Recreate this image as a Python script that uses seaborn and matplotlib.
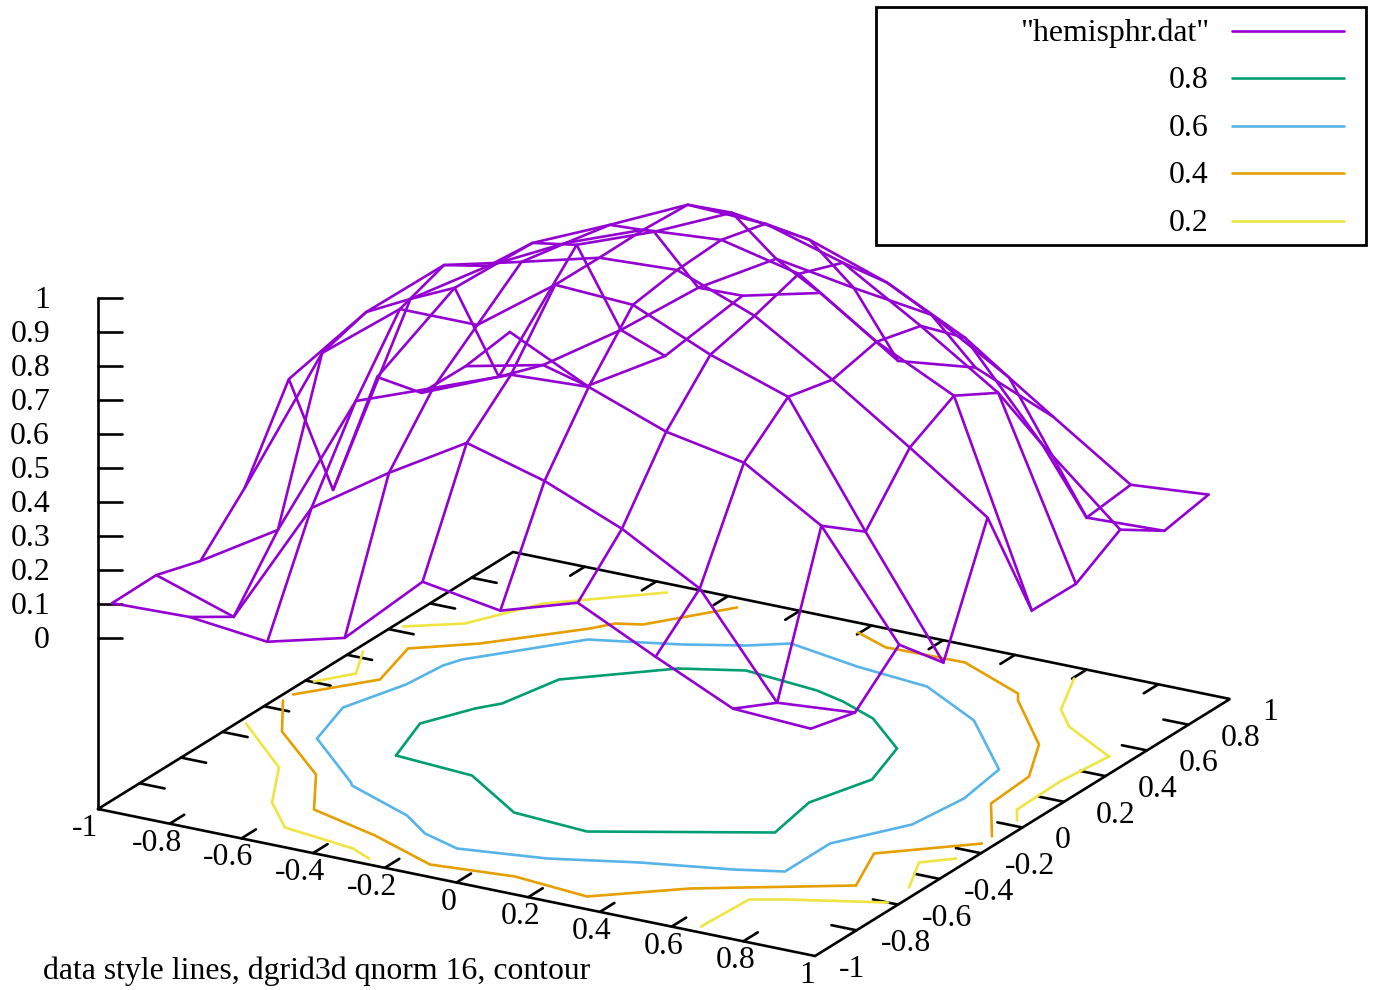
import matplotlib
matplotlib.use('Agg')
import matplotlib.pyplot as plt
import seaborn as sns
from matplotlib.patches import Rectangle

sns.set_style('white')
plt.rcParams['font.family'] = ['Liberation Serif', 'DejaVu Serif']
plt.rcParams['font.size'] = 22.85
plt.rcParams['text.color'] = 'black'

# Surface grid, dgrid3d 10 x 10
x_grid = [-0.981, -0.765, -0.548, -0.332, -0.115, 0.102, 0.318, 0.535, 0.751, 0.968]
y_grid = [-0.965, -0.752, -0.539, -0.326, -0.113, 0.100, 0.313, 0.526, 0.739, 0.952]

# z values, one row per x_grid entry
z_x0 = [.094, .096, .057, .191, .431, .024, .276, .149, .147, .167]
z_x1 = [.100, .020, .195, .635, .675, .633, .585, .243, .197, .055]
z_x2 = [.074, .387, .621, .811, .860, .777, .764, .678, .347, .190]
z_x3 = [.132, .537, .706, .811, .916, .891, .864, .763, .518, .414]
z_x4 = [.344, .672, .792, .976, .975, .977, .970, .866, .650, .469]
z_x5 = [.306, .607, .803, .964, .986, .994, .961, .833, .611, .316]
z_x6 = [.376, .513, .718, .864, .898, .941, .893, .754, .579, .343]
z_x7 = [.264, .384, .674, .787, .757, .788, .754, .639, .441, .245]
z_x8 = [.158, .095, .535, .437, .604, .676, .604, .371, .076, .092]
z_x9 = [.146, .113, .232, .099, .445, .091, .089, .168, .084, .110]
z_rows = [z_x0, z_x1, z_x2, z_x3, z_x4, z_x5, z_x6, z_x7, z_x8, z_x9]

c08_sx = [396, 420, 475, 502, 559, 678, 746, 817, 843, 873, 897, 872, 809, 775, 587, 514, 472, 396]
c08_sy = [755, 723, 708, 703, 679, 668, 670, 690, 701, 718, 748, 779, 802, 832, 831, 812, 775, 755]

c06_sx = [317, 343, 406, 443, 462, 588, 643, 683, 747, 791, 857, 927, 974, 999, 964, 912, 830, 785,
          733, 640, 547, 457, 425, 407, 352, 351, 317]
c06_sy = [738, 707, 684, 665, 659, 639, 642, 644, 645, 643, 666, 686, 720, 769, 798, 824, 843, 871,
          869, 862, 858, 848, 833, 815, 785, 782, 738]

c04a_sx = [293, 380, 408, 480, 590, 615, 643, 737]
c04a_sy = [694, 679, 648, 643, 628, 623, 624, 607]
c04b_sx = [283, 282, 316, 314, 375, 430, 515, 587, 690, 856, 874, 982]
c04b_sy = [700, 731, 774, 809, 835, 864, 876, 896, 888, 885, 853, 843]
c04c_sx = [858, 886, 898, 965, 1018, 1018, 1039, 1029, 991, 992]
c04c_sy = [632, 647, 649, 662, 693, 700, 744, 776, 803, 836]

c02a_sx = [403, 465, 543, 667]
c02a_sy = [626, 623, 603, 592]
c02b_sx = [363, 356, 314]
c02b_sy = [651, 673, 681]
c02c_sx = [246, 279, 272, 285, 353, 369]
c02c_sy = [723, 767, 802, 827, 848, 858]
c02d_sx = [701, 749, 787, 888]
c02d_sy = [926, 899, 899, 902]
c02e_sx = [909, 919, 956]
c02e_sy = [887, 862, 858]
c02f_sx = [1017, 1017, 1060, 1109, 1069, 1061, 1074]
c02f_sy = [820, 809, 781, 756, 726, 709, 678]

contours_08 = [(c08_sx, c08_sy)]
contours_06 = [(c06_sx, c06_sy)]
contours_04 = [(c04a_sx, c04a_sy), (c04b_sx, c04b_sy), (c04c_sx, c04c_sy)]
contours_02 = [(c02a_sx, c02a_sy), (c02b_sx, c02b_sy), (c02c_sx, c02c_sy),
               (c02d_sx, c02d_sy), (c02e_sx, c02e_sy), (c02f_sx, c02f_sy)]

# Ticks
xy_ticks = [-1, -0.8, -0.6, -0.4, -0.2, 0, 0.2, 0.4, 0.6, 0.8, 1]
xy_labels = ['-1', '-0.8', '-0.6', '-0.4', '-0.2', '0', '0.2', '0.4', '0.6', '0.8', '1']
z_ticks = [0, 0.1, 0.2, 0.3, 0.4, 0.5, 0.6, 0.7, 0.8, 0.9, 1]
z_labels = ['0', '0.1', '0.2', '0.3', '0.4', '0.5', '0.6', '0.7', '0.8', '0.9', '1']

legend_labels = ['"hemisphr.dat"', '0.8', '0.6', '0.4', '0.2']

# Цвета
PURPLE = '#9400d3'
GREEN = '#009e73'
BLUE = '#56b4e9'
ORANGE = '#e69f00'
YELLOW = '#f0e442'
legend_colors = [PURPLE, GREEN, BLUE, ORANGE, YELLOW]

LW = 1.9


def project(x, y, z=None):
    # fixed gnuplot view, z=None means the base plane
    sx = 664 + 358.5 * x + 207.5 * y
    sy = 753.5 + 73.5 * x - 128.5 * y
    if z is not None:
        sy = sy - 170.8 - 340 * z
    return sx, sy


def draw(ax, xs, ys, color, lw=LW):
    sns.lineplot(x=xs, y=ys, sort=False, estimator=None, color=color, linewidth=lw,
                 ax=ax, legend=False, solid_joinstyle='miter')


fig = plt.figure(figsize=(13.74, 9.9), dpi=100)
ax = fig.add_axes([0, 0, 1, 1])

# Z axis
sx0, sy0 = project(-1, -1)
sx1, sy1 = project(-1, -1, 1)
draw(ax, [sx0, sx1], [sy0, sy1], 'black')
for tick, label in zip(z_ticks, z_labels):
    sx, sy = project(-1, -1, tick)
    draw(ax, [sx, sx + 24], [sy, sy], 'black')
    ax.text(50, sy + 10, label, ha='right', va='baseline')

# Base frame
corner_x = [-1, 1, 1, -1, -1]
corner_y = [-1, -1, 1, 1, -1]
pts = [project(a, b) for a, b in zip(corner_x, corner_y)]
draw(ax, [p[0] for p in pts], [p[1] for p in pts], 'black')

# Ticks on all four edges of the base
for tick, label in zip(xy_ticks, xy_labels):
    neg = label.startswith('-')
    sx, sy = project(tick, -1)
    ax.text(sx - (13 if neg else 8), sy + 27, label, ha='center', va='baseline')
    sx, sy = project(1, tick)
    ax.text(sx + (24 if neg else 32), sy + 21, label, ha='left', va='baseline')
    if abs(tick) == 1:
        continue
    for start, end in [(project(tick, -1), project(tick, -0.93)),
                       (project(tick, 1), project(tick, 0.93)),
                       (project(-1, tick), project(-0.93, tick)),
                       (project(1, tick), project(0.93, tick))]:
        draw(ax, [start[0], end[0]], [start[1], end[1]], 'black')

# Contours
for pieces, color in [(contours_08, GREEN), (contours_06, BLUE),
                      (contours_04, ORANGE), (contours_02, YELLOW)]:
    for xs, ys in pieces:
        draw(ax, xs, ys, color)

# Surface mesh, lines along both grid directions
for i, x in enumerate(x_grid):
    line = [project(x, y, z_rows[i][j]) for j, y in enumerate(y_grid)]
    draw(ax, [p[0] for p in line], [p[1] for p in line], PURPLE)
for j, y in enumerate(y_grid):
    line = [project(x, y, z_rows[i][j]) for i, x in enumerate(x_grid)]
    draw(ax, [p[0] for p in line], [p[1] for p in line], PURPLE)

# Legend
ax.add_patch(Rectangle((876, 6.5), 490, 237.5, fill=False, edgecolor='black', linewidth=2.0, zorder=5))
for k, (label, color) in enumerate(zip(legend_labels, legend_colors)):
    row_y = 30 + 47.6 * k
    draw(ax, [1232, 1344], [row_y, row_y], color)
    ax.text(1209, row_y + 10, label, ha='right', va='baseline')

ax.text(43, 979, 'data style lines, dgrid3d qnorm 16, contour', ha='left', va='baseline')

ax.set_xlim(0, 1374)
ax.set_ylim(989.5, -0.5)
ax.axis('off')

plt.savefig('out.png', dpi=100, facecolor='white')
plt.close()
